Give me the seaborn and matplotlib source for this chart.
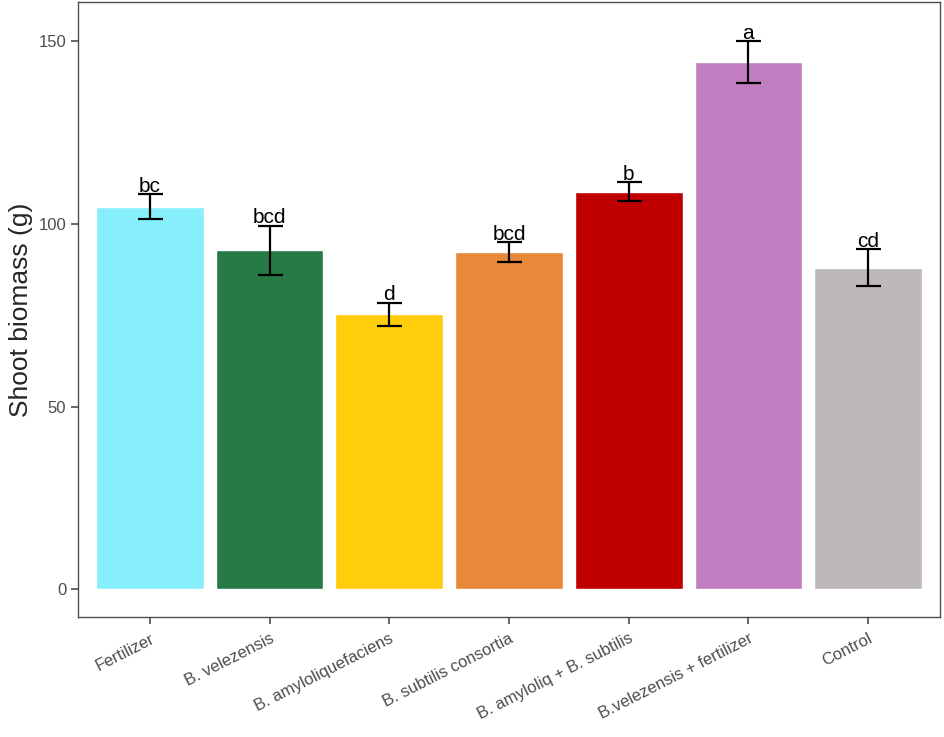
import pandas as pd
import numpy as np
import matplotlib.pyplot as plt
import seaborn as sns

treatments = ['Fertilizer', 'B. velezensis', 'B. amyloliquefaciens', 'B. subtilis consortia',
              'B. amyloliq + B. subtilis', 'B.velezensis + fertilizer', 'Control']
biomass = [104.8, 92.8, 75.3, 92.3, 108.9, 144.4, 88.1]
se = [3.3, 6.8, 3.2, 2.7, 2.5, 5.7, 5.0]
letters = ['bc', 'bcd', 'd', 'bcd', 'b', 'a', 'cd']
colors = ['#87EFFB', '#277A45', '#FFCD0B', '#E8893A', '#C00000', '#C07EC1', '#BEB9B9']

df = pd.DataFrame({'treatment': treatments, 'biomass': biomass, 'se': se})

sns.set_style('white')
plt.rcParams['font.family'] = ['Liberation Sans', 'DejaVu Sans']

fig = plt.figure(figsize=(9.45, 7.37), dpi=100)
ax = fig.add_axes([0.0825, 0.1628, 0.9122, 0.8345])

sns.barplot(data=df, x='treatment', y='biomass', hue='treatment', palette=colors,
            width=0.9, errorbar=None, legend=False, saturation=1, ax=ax)
ax.errorbar(np.arange(len(treatments)), df['biomass'], yerr=df['se'], fmt='none',
            ecolor='black', elinewidth=1.6, capsize=9, capthick=1.6)

# significance letters
for i, (m, s, lab) in enumerate(zip(biomass, se, letters)):
    ax.text(i, m + s - 0.4, lab, ha='center', va='bottom', fontsize=15, color='black')

ax.set_xlim(-0.6, 6.6)
ax.set_ylim(-7.6, 160.8)
ax.set_yticks([0, 50, 100, 150])
ax.set_xlabel('')
ax.set_ylabel('Shoot biomass (g)', fontsize=19)

ax.set_xticks(range(len(treatments)))
ax.set_xticklabels(treatments, rotation=27, ha='right', rotation_mode='anchor')
ax.tick_params(axis='both', colors='#4D4D4D', labelsize=12, length=5, width=1.2,
               direction='out', bottom=True, left=True)
ax.tick_params(axis='x', pad=5)
for sp in ax.spines.values():
    sp.set_color('#4D4D4D')
    sp.set_linewidth(1.0)
    sp.set_visible(True)

fig.savefig('out.png', dpi=100)
